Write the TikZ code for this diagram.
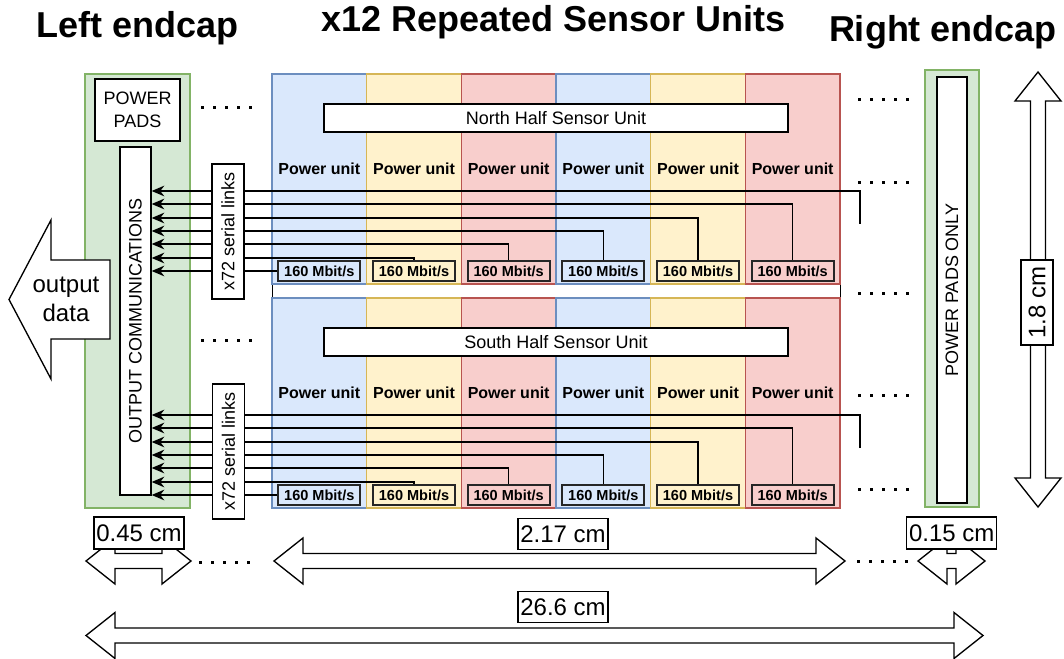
\documentclass[tikz,border=0pt]{standalone}
\usepackage{fontspec}
\setmainfont{Liberation Sans}
\usetikzlibrary{arrows.meta}

\begin{document}
\begin{tikzpicture}[x=0.75pt,y=0.75pt,yscale=-1,xscale=1,
  endcap/.style={draw={rgb,255:red,130;green,179;blue,102},fill={rgb,255:red,213;green,232;blue,212},line width=1pt},
  bluecol/.style={draw={rgb,255:red,108;green,142;blue,191},fill={rgb,255:red,218;green,232;blue,252},line width=1pt},
  yellowcol/.style={draw={rgb,255:red,214;green,182;blue,86},fill={rgb,255:red,255;green,242;blue,204},line width=1pt},
  redcol/.style={draw={rgb,255:red,184;green,84;blue,80},fill={rgb,255:red,248;green,206;blue,204},line width=1pt},
  whitebox/.style={draw,fill=white,line width=1pt,inner sep=0pt,font=\fontsize{13.5}{17.25}\selectfont,align=center},
  unitlbl/.style={font=\bfseries\fontsize{12}{14}\selectfont},
  rate/.style={draw=black!85,line width=1.5pt,inner sep=0pt,minimum width=61.5pt,minimum height=15pt,font=\bfseries\fontsize{10.9}{12}\selectfont},
  link/.style={line width=1.1pt,-{Stealth[length=9.5pt,width=8pt]}},
  fatarrow/.style={draw,fill=white,line width=1pt},
  dimlbl/.style={draw,fill=white,line width=1pt,inner sep=0pt,font=\fontsize{18}{21}\selectfont},
  dots/.style={line width=2.25pt,dash pattern={on 2.25pt off 6.75pt}},
  bigtitle/.style={font=\bfseries\fontsize{27}{32}\selectfont}]
\useasboundingbox (0,0) rectangle (1064,659);

%Titles
\node[bigtitle] (tleft) at (137.5,28) {Left endcap};
\node[bigtitle] (tmid) at (553.5,22) {x12 Repeated Sensor Units};
\node[bigtitle] (tright) at (943,32) {Right endcap};

%Left endcap
\draw[endcap] (85,74) rectangle (190,508);

%Gap between the halves
\draw[fill=white,line width=0.75pt] (272,282) rectangle (840,300);

%North columns
\draw[bluecol] (272,74) rectangle (366.67,284);
\draw[yellowcol] (366.67,74) rectangle (461.33,284);
\draw[redcol] (461.33,74) rectangle (556,284);
\draw[bluecol] (556,74) rectangle (650.67,284);
\draw[yellowcol] (650.67,74) rectangle (745.33,284);
\draw[redcol] (745.33,74) rectangle (840,284);

%South columns
\draw[bluecol] (272,298) rectangle (366.67,508);
\draw[yellowcol] (366.67,298) rectangle (461.33,508);
\draw[redcol] (461.33,298) rectangle (556,508);
\draw[bluecol] (556,298) rectangle (650.67,508);
\draw[yellowcol] (650.67,298) rectangle (745.33,508);
\draw[redcol] (745.33,298) rectangle (840,508);

%Half sensor units
\node[whitebox,minimum width=348pt,minimum height=21pt] (north) at (556,118) {North Half Sensor Unit};
\node[whitebox,minimum width=348pt,minimum height=21pt] (south) at (556,342) {South Half Sensor Unit};

%Power units
\node[unitlbl] (np1) at (319.33,169) {Power unit};
\node[unitlbl] (np2) at (414,169) {Power unit};
\node[unitlbl] (np3) at (508.67,169) {Power unit};
\node[unitlbl] (np4) at (603.33,169) {Power unit};
\node[unitlbl] (np5) at (698,169) {Power unit};
\node[unitlbl] (np6) at (792.67,169) {Power unit};
\node[unitlbl] (sp1) at (319.33,393) {Power unit};
\node[unitlbl] (sp2) at (414,393) {Power unit};
\node[unitlbl] (sp3) at (508.67,393) {Power unit};
\node[unitlbl] (sp4) at (603.33,393) {Power unit};
\node[unitlbl] (sp5) at (698,393) {Power unit};
\node[unitlbl] (sp6) at (792.67,393) {Power unit};

%Data rates
\node[rate] (nb1) at (319.33,271) {160 Mbit/s};
\node[rate] (nb2) at (414,271) {160 Mbit/s};
\node[rate] (nb3) at (508.67,271) {160 Mbit/s};
\node[rate] (nb4) at (603.33,271) {160 Mbit/s};
\node[rate] (nb5) at (698,271) {160 Mbit/s};
\node[rate] (nb6) at (792.67,271) {160 Mbit/s};
\node[rate] (sb1) at (319.33,495) {160 Mbit/s};
\node[rate] (sb2) at (414,495) {160 Mbit/s};
\node[rate] (sb3) at (508.67,495) {160 Mbit/s};
\node[rate] (sb4) at (603.33,495) {160 Mbit/s};
\node[rate] (sb5) at (698,495) {160 Mbit/s};
\node[rate] (sb6) at (792.67,495) {160 Mbit/s};

%Output communications
\node[whitebox,minimum width=23.25pt,minimum height=261pt] (oc) at (135.5,321) {\rotatebox{90}{OUTPUT COMMUNICATIONS}};

%Serial links, north
\coordinate (nfree) at (860,224);
\draw[link] (nfree) |- (oc.east |- 0,191);
\draw[link] (nb6.north) |- (oc.east |- 0,204);
\draw[link] (nb5.north) |- (oc.east |- 0,218);
\draw[link] (nb4.north) |- (oc.east |- 0,231);
\draw[link] (nb3.north) |- (oc.east |- 0,244);
\draw[link] (nb2.north) |- (oc.east |- 0,258);
\draw[link] (nb1.west) -- (oc.east |- nb1.west);

%Serial links, south
\coordinate (sfree) at (860,448);
\draw[link] (sfree) |- (oc.east |- 0,415);
\draw[link] (sb6.north) |- (oc.east |- 0,428);
\draw[link] (sb5.north) |- (oc.east |- 0,442);
\draw[link] (sb4.north) |- (oc.east |- 0,455);
\draw[link] (sb3.north) |- (oc.east |- 0,468);
\draw[link] (sb2.north) |- (oc.east |- 0,482);
\draw[link] (sb1.west) -- (oc.east |- sb1.west);

\node[whitebox,minimum width=24pt,minimum height=101.25pt] (nser) at (228,231.5) {\rotatebox{90}{x72 serial links}};
\node[whitebox,minimum width=24pt,minimum height=101.25pt] (sser) at (228.5,451.5) {\rotatebox{90}{x72 serial links}};

%Power pads
\node[whitebox,minimum width=63.75pt,minimum height=46.5pt] (pads) at (137.5,110) {POWER\\PADS};

%Output data
\draw[fatarrow] (9,299.5) -- (51,220) -- (51,260) -- (110,260) -- (110,339) -- (51,339) -- (51,379) -- cycle;
\node[font=\fontsize{18}{21.75}\selectfont,align=center] (outdata) at (66,299) {output\\data};

%Right endcap
\draw[endcap] (925,70) rectangle (979,507);
\node[whitebox,minimum width=22.5pt,minimum height=319.5pt] (rpads) at (952,290) {\rotatebox{90}{POWER PADS ONLY}};

%Dots
\draw[dots] (201,108) -- (252,108);
\draw[dots] (201,341) -- (252,341);
\draw[dots] (199,562) -- (250,562);
\draw[dots] (858,100) -- (909,100);
\draw[dots] (858,183) -- (909,183);
\draw[dots] (858,294) -- (909,294);
\draw[dots] (858,395) -- (909,395);
\draw[dots] (858,489) -- (909,489);
\draw[dots] (857,561) -- (908,561);

%Dimensions
\draw[fatarrow] (86,561) -- (115,538) -- (115,553.5) -- (162,553.5) -- (162,538) -- (191,561) -- (162,584) -- (162,568.5) -- (115,568.5) -- (115,584) -- cycle;
\draw[fatarrow] (274,561) -- (303,538) -- (303,553.5) -- (816,553.5) -- (816,538) -- (845,561) -- (816,584) -- (816,568.5) -- (303,568.5) -- (303,584) -- cycle;
\draw[fatarrow] (918,561) -- (947,538) -- (947,553.5) -- (956,553.5) -- (956,538) -- (985,561) -- (956,584) -- (956,568.5) -- (947,568.5) -- (947,584) -- cycle;
\draw[fatarrow] (86,635.5) -- (115,612.5) -- (115,628) -- (954,628) -- (954,612.5) -- (983,635.5) -- (954,658.5) -- (954,643) -- (115,643) -- (115,658.5) -- cycle;
\draw[fatarrow] (1038,72) -- (1061,101) -- (1045.5,101) -- (1045.5,478) -- (1061,478) -- (1038,507) -- (1015,478) -- (1030.5,478) -- (1030.5,101) -- (1015,101) -- cycle;

\node[dimlbl,minimum width=67.5pt,minimum height=24pt] (w045) at (139,533) {0.45 cm};
\node[dimlbl,minimum width=67.5pt,minimum height=23.25pt] (w217) at (563,534) {2.17 cm};
\node[dimlbl,minimum width=67.5pt,minimum height=24pt] (w015) at (951.7,533) {0.15 cm};
\node[dimlbl,minimum width=67.5pt,minimum height=23.25pt] (w266) at (563,607) {26.6 cm};
\node[dimlbl,minimum width=24pt,minimum height=63.75pt] (h18) at (1037,302.5) {\rotatebox{90}{1.8 cm}};

\end{tikzpicture}
\end{document}
